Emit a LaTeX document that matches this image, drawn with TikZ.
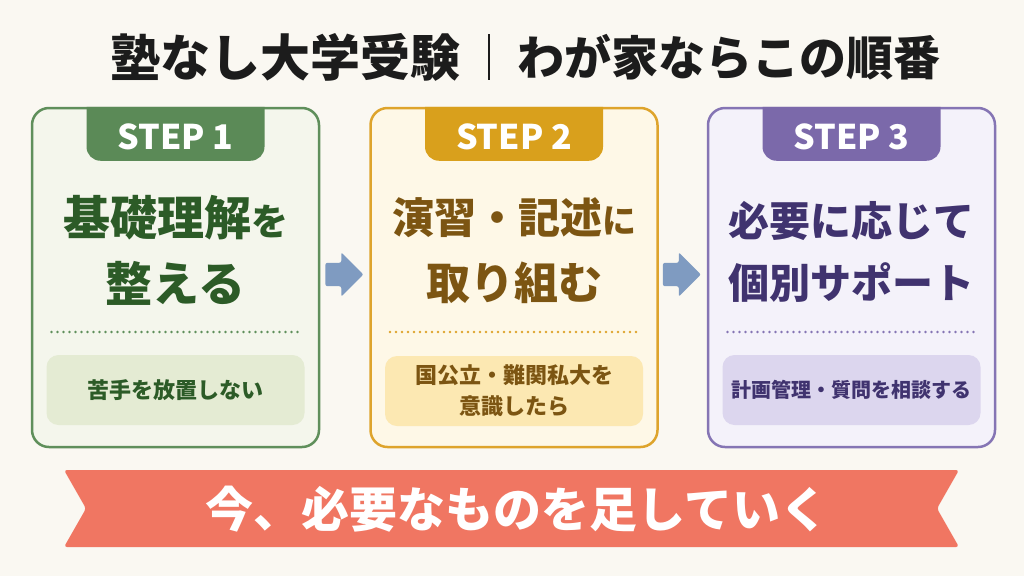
\documentclass[tikz,border=0pt]{standalone}
\usepackage{fontspec}
\setmainfont{Noto Sans CJK JP}
\usepackage{tikz}
\usetikzlibrary{positioning,shapes.arrows}

\definecolor{paper}{HTML}{FAF8F2}
\definecolor{inkdark}{HTML}{1C1C1C}
\definecolor{grnline}{HTML}{5F8F5B}
\definecolor{grntab}{HTML}{5B8A57}
\definecolor{grnfill}{HTML}{F4F6EC}
\definecolor{grnsub}{HTML}{E4EBD3}
\definecolor{grntext}{HTML}{2C5B27}
\definecolor{gldline}{HTML}{DEA42C}
\definecolor{gldtab}{HTML}{D9A01C}
\definecolor{gldfill}{HTML}{FEF8E7}
\definecolor{gldsub}{HTML}{FCE8B2}
\definecolor{gldtext}{HTML}{7C5512}
\definecolor{prpline}{HTML}{8575B4}
\definecolor{prptab}{HTML}{7B69AA}
\definecolor{prpfill}{HTML}{F4F2FA}
\definecolor{prpsub}{HTML}{DCD6EE}
\definecolor{prptext}{HTML}{40336F}
\definecolor{arrowblue}{HTML}{7F9BC1}
\definecolor{ribbonred}{HTML}{F07662}

\begin{document}
\begin{tikzpicture}[x=1pt, y=-1pt,
stepbox/.style={rectangle, rounded corners=17pt, line width=2.5pt, minimum width=287pt, minimum height=339pt},
steplabel/.style={font=\bfseries\fontsize{34}{38}\selectfont, text=white, inner sep=0pt},
headtext/.style={font=\bfseries\fontsize{47}{50}\selectfont, inner sep=0pt},
subbox/.style={rectangle, rounded corners=12pt, minimum width=258pt, minimum height=70pt, align=center, font=\bfseries\fontsize{22}{31}\selectfont},
dotline/.style={line width=2.7pt, line cap=round, dash pattern=on 0pt off 6pt},
stepArrow/.style={single arrow, fill=arrowblue, minimum height=38pt, single arrow head extend=10.5pt, inner xsep=0pt, inner ysep=11.5pt, rounded corners=2pt},
titletext/.style={font=\bfseries\fontsize{50}{54}\selectfont, text=inkdark, inner sep=0pt},
titlebar/.style={rectangle, fill=inkdark, minimum width=2.5pt, minimum height=46pt, inner sep=0pt},
bannertext/.style={font=\bfseries\fontsize{48}{50}\selectfont, text=white, inner sep=0pt},
]
\fill[paper] (0,0) rectangle (1024,576);
\useasboundingbox (0,0) rectangle (1024,576);

%Title
\node[titlebar]  (bar)    at (489,57) {};
\node[titletext] (titleL) [left=27pt of bar]  {塾なし大学受験};
\node[titletext, font=\bfseries\fontsize{47}{54}\selectfont] (titleR) [right=27pt of bar] {わが家ならこの順番};

%Boxes
\node[stepbox, draw=grnline, fill=grnfill] (box1) at (175.5,277.5) {};
\node[stepbox, draw=gldline, fill=gldfill] (box2) [right=49pt of box1] {};
\node[stepbox, draw=prpline, fill=prpfill] (box3) [right=48pt of box2] {};

%Tabs
\fill[grntab] ([xshift=-89pt]box1.north) [rounded corners=14pt] -- ++(0,54) -- ++(178,0) [sharp corners] -- ++(0,-54) -- cycle;
\fill[gldtab] ([xshift=-89pt]box2.north) [rounded corners=14pt] -- ++(0,54) -- ++(178,0) [sharp corners] -- ++(0,-54) -- cycle;
\fill[prptab] ([xshift=-89pt]box3.north) [rounded corners=14pt] -- ++(0,54) -- ++(178,0) [sharp corners] -- ++(0,-54) -- cycle;
\node[steplabel] (lab1) at ([yshift=140.5pt]box1.center) {STEP 1};
\node[steplabel] (lab2) at ([yshift=140.5pt]box2.center) {STEP 2};
\node[steplabel] (lab3) at ([yshift=140.5pt]box3.center) {STEP 3};

%Headings
\node[headtext, text=grntext] (head1a) at ([yshift=59.5pt]box1.center) {基礎理解{\fontsize{37}{40}\selectfont を}};
\node[headtext, text=grntext] (head1b) at ([yshift=-5.5pt]box1.center) {整える};
\node[headtext, text=gldtext, font=\bfseries\fontsize{42}{46}\selectfont] (head2a) at ([yshift=59.5pt]box2.center) {演習・記述{\fontsize{34}{40}\selectfont に}};
\node[headtext, text=gldtext, font=\bfseries\fontsize{44}{48}\selectfont] (head2b) at ([yshift=-5.5pt]box2.center) {取り組む};
\node[headtext, text=prptext, font=\bfseries\fontsize{41}{46}\selectfont] (head3a) at ([yshift=57pt]box3.center) {必要に応じて};
\node[headtext, text=prptext, font=\bfseries\fontsize{41}{46}\selectfont] (head3b) at ([yshift=-5.5pt]box3.center) {個別サポート};

%Dots
\draw[dotline, draw=grnline] ([xshift=-124pt,yshift=-54.5pt]box1.center) -- ([xshift=124pt,yshift=-54.5pt]box1.center);
\draw[dotline, draw=gldline] ([xshift=-124pt,yshift=-54.5pt]box2.center) -- ([xshift=124pt,yshift=-54.5pt]box2.center);
\draw[dotline, draw=prpline] ([xshift=-124pt,yshift=-54.5pt]box3.center) -- ([xshift=124pt,yshift=-54.5pt]box3.center);

%Notes
\node[subbox, fill=grnsub, text=grntext] (sub1) at ([yshift=-112.5pt]box1.center) {苦手を放置しない};
\node[subbox, fill=gldsub, text=gldtext] (sub2) at ([yshift=-113.5pt]box2.center) {国公立・難関私大を\\意識したら};
\node[subbox, fill=prpsub, text=prptext, font=\bfseries\fontsize{20}{28}\selectfont] (sub3) at ([yshift=-112.5pt]box3.center) {計画管理・質問を相談する};

%Arrows
\node[stepArrow] (arr1) [right=5pt of box1, yshift=3pt] {};
\node[stepArrow] (arr2) [right=4pt of box2, yshift=3pt] {};

%Banner
\fill[ribbonred, rounded corners=3pt] (64,470) -- (959,470) -- (937,508.5) -- (959,547) -- (64,547) -- (86,508.5) -- cycle;
\node[bannertext] (motto) at (517,509) {今、必要なものを足していく};

\end{tikzpicture}
\end{document}
